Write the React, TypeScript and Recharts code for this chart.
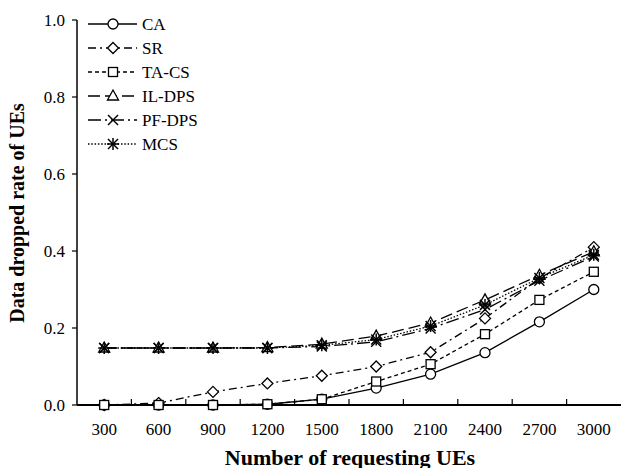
import { Label, Legend, Line, LineChart, XAxis, YAxis } from 'recharts';

const UES = [300, 600, 900, 1200, 1500, 1800, 2100, 2400, 2700, 3000];

const CA = [0, 0, 0, 0.002, 0.015, 0.044, 0.08, 0.136, 0.216, 0.3];
const SR = [0, 0.005, 0.034, 0.056, 0.076, 0.1, 0.137, 0.225, 0.329, 0.41];
const TA_CS = [0, 0, 0, 0.002, 0.015, 0.061, 0.106, 0.184, 0.273, 0.346];
const IL_DPS = [0.148, 0.148, 0.148, 0.149, 0.158, 0.179, 0.213, 0.273, 0.337, 0.398];
const PF_DPS = [0.148, 0.148, 0.148, 0.148, 0.152, 0.164, 0.199, 0.248, 0.323, 0.386];
const MCS = [0.148, 0.148, 0.148, 0.148, 0.155, 0.17, 0.205, 0.26, 0.33, 0.39];

const Y_TICKS = [0, 0.2, 0.4, 0.6, 0.8, 1.0];

const FONT = 'Liberation Serif';
const W = 621;
const H = 468;
const LEFT = 77;
const BAND = (W - LEFT) / UES.length;

type Kind = 'circle' | 'diamond' | 'square' | 'triangle' | 'cross' | 'star';

const SERIES: { key: string; name: string; kind: Kind; dash?: string }[] = [
  { key: 'ca', name: 'CA', kind: 'circle' },
  { key: 'sr', name: 'SR', kind: 'diamond', dash: '8 4 2 4' },
  { key: 'tacs', name: 'TA-CS', kind: 'square', dash: '4 3' },
  { key: 'ildps', name: 'IL-DPS', kind: 'triangle', dash: '12 5' },
  { key: 'pfdps', name: 'PF-DPS', kind: 'cross', dash: '13 4 2 4' },
  { key: 'mcs', name: 'MCS', kind: 'star', dash: '1.5 1.8' },
];

const data = UES.map((u, i) => ({
  ues: u,
  ca: CA[i],
  sr: SR[i],
  tacs: TA_CS[i],
  ildps: IL_DPS[i],
  pfdps: PF_DPS[i],
  mcs: MCS[i],
}));

function Marker({ kind, cx, cy }: { kind: Kind; cx: number; cy: number }) {
  const s = { stroke: '#000', strokeWidth: 1.3, fill: '#fff' };
  switch (kind) {
    case 'circle':
      return <circle cx={cx} cy={cy} r={5} {...s} />;
    case 'diamond':
      return <polygon points={`${cx},${cy - 5.5} ${cx + 5.5},${cy} ${cx},${cy + 5.5} ${cx - 5.5},${cy}`} {...s} />;
    case 'square':
      return <rect x={cx - 4.5} y={cy - 4.5} width={9} height={9} {...s} />;
    case 'triangle':
      return <polygon points={`${cx},${cy - 6} ${cx + 5.5},${cy + 4} ${cx - 5.5},${cy + 4}`} {...s} />;
    case 'cross':
      return (
        <g stroke="#000" strokeWidth={1.4}>
          <line x1={cx - 5} y1={cy - 5} x2={cx + 5} y2={cy + 5} />
          <line x1={cx - 5} y1={cy + 5} x2={cx + 5} y2={cy - 5} />
        </g>
      );
    case 'star':
      return (
        <g stroke="#000" strokeWidth={1.5}>
          <line x1={cx - 5} y1={cy - 5} x2={cx + 5} y2={cy + 5} />
          <line x1={cx - 5} y1={cy + 5} x2={cx + 5} y2={cy - 5} />
          <line x1={cx} y1={cy - 6} x2={cx} y2={cy + 6} />
          <line x1={cx - 6} y1={cy} x2={cx + 6} y2={cy} />
        </g>
      );
  }
  return null;
}

function XTick(props: any) {
  const { x, y, payload, index } = props;
  return (
    <g>
      {index > 0 && <line x1={x - BAND / 2} y1={y} x2={x - BAND / 2} y2={y - 6} stroke="#000" strokeWidth={1.2} />}
      <text x={x} y={y + 24} textAnchor="middle" dominantBaseline="central" fontSize={17} fontFamily={FONT} fill="#000">
        {payload.value}
      </text>
    </g>
  );
}

function LegendBox() {
  return (
    <svg width={150} height={150}>
      {SERIES.map((s, i) => {
        const y = 12 + i * 24;
        return (
          <g key={s.key}>
            <line x1={3} y1={y} x2={52} y2={y} stroke="#000" strokeWidth={1.3} strokeDasharray={s.dash} />
            <Marker kind={s.kind} cx={28} cy={y} />
            <text x={57} y={y} dominantBaseline="central" fontSize={17} fontFamily={FONT} fill="#000">
              {s.name}
            </text>
          </g>
        );
      })}
    </svg>
  );
}

export default function App() {
  return (
    <div style={{ position: 'absolute', left: 0, top: 0, background: '#fff' }}>
      <LineChart width={W} height={H} data={data} margin={{ top: 20, right: 0, bottom: 0, left: 0 }}>
        <XAxis
          dataKey="ues"
          type="category"
          height={63}
          padding={{ left: BAND / 2, right: BAND / 2 }}
          tickSize={0}
          tickMargin={0}
          tickLine={false}
          interval={0}
          tick={<XTick />}
          axisLine={{ stroke: '#000', strokeWidth: 2 }}
        >
          <Label
            content={() => (
              <text x={350} y={457} textAnchor="middle" dominantBaseline="central" fontSize={22} fontWeight="bold" fontFamily={FONT} fill="#000">
                Number of requesting UEs
              </text>
            )}
          />
        </XAxis>
        <YAxis
          width={LEFT}
          domain={[0, 1]}
          ticks={Y_TICKS}
          tickFormatter={(v: number) => v.toFixed(1)}
          tickSize={5}
          tickMargin={7}
          tick={{ fill: '#000', fontSize: 17, fontFamily: FONT }}
          tickLine={{ stroke: '#000', strokeWidth: 1.2 }}
          axisLine={{ stroke: '#000', strokeWidth: 1.5 }}
        >
          <Label
            content={() => (
              <text
                x={17}
                y={213}
                textAnchor="middle"
                dominantBaseline="central"
                fontSize={20}
                fontWeight="bold"
                fontFamily={FONT}
                fill="#000"
                transform="rotate(-90 17 213)"
              >
                Data dropped rate of UEs
              </text>
            )}
          />
        </YAxis>
        <Legend
          layout="horizontal"
          verticalAlign="middle"
          align="center"
          content={<LegendBox />}
          wrapperStyle={{ left: 85, top: 12, width: 150, height: 150 }}
        />
        {SERIES.map((s) => (
          <Line
            key={s.key}
            dataKey={s.key}
            name={s.name}
            stroke="#000"
            strokeWidth={1.3}
            strokeDasharray={s.dash}
            isAnimationActive={false}
            dot={(p: any) => <Marker key={`${s.key}-${p.index}`} kind={s.kind} cx={p.cx} cy={p.cy} />}
            activeDot={false}
          />
        ))}
      </LineChart>
    </div>
  );
}
